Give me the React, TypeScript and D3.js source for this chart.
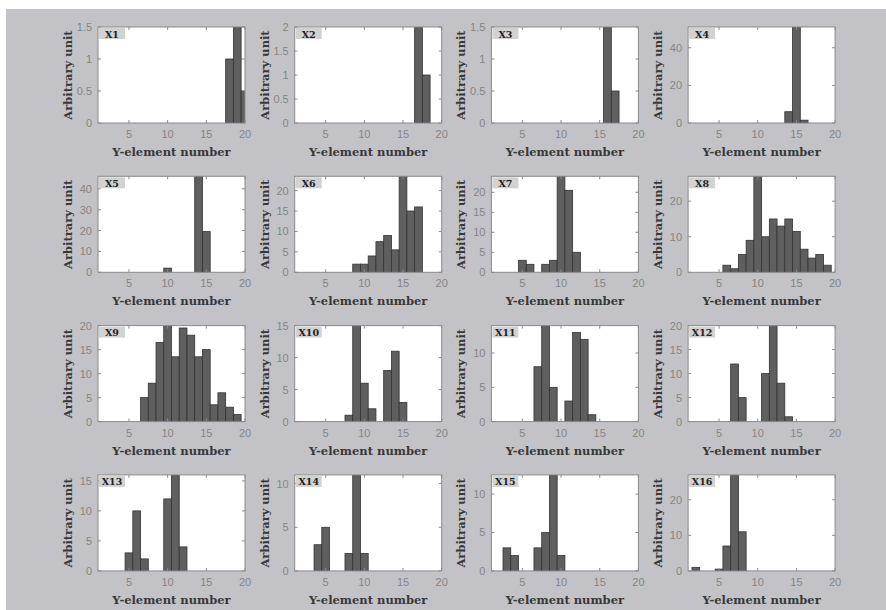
import React from 'react';
import * as d3 from 'd3';

// element numbers on the x axis (bins)
const elementNumbers = [1, 2, 3, 4, 5, 6, 7, 8, 9, 10, 11, 12, 13, 14, 15, 16, 17, 18, 19, 20];
const xTicks = [5, 10, 15, 20];

// counts per element number, one array per panel
const x1 = [0, 0, 0, 0, 0, 0, 0, 0, 0, 0, 0, 0, 0, 0, 0, 0, 0, 1, 1.5, 0.5];
const x2 = [0, 0, 0, 0, 0, 0, 0, 0, 0, 0, 0, 0, 0, 0, 0, 0, 2, 1, 0, 0];
const x3 = [0, 0, 0, 0, 0, 0, 0, 0, 0, 0, 0, 0, 0, 0, 0, 1.5, 0.5, 0, 0, 0];
const x4 = [0, 0, 0, 0, 0, 0, 0, 0, 0, 0, 0, 0, 0, 6, 51, 1.5, 0, 0, 0, 0];
const x5 = [0, 0, 0, 0, 0, 0, 0, 0, 0, 2, 0, 0, 0, 46, 19.5, 0, 0, 0, 0, 0];
const x6 = [0, 0, 0, 0, 0, 0, 0, 0, 2, 2, 4, 7.5, 9, 5.5, 23.5, 15, 16, 0, 0, 0];
const x7 = [0, 0, 0, 0, 3, 2, 0, 2, 3, 24, 20.5, 5, 0, 0, 0, 0, 0, 0, 0, 0];
const x8 = [0, 0, 0, 0, 0, 2, 1, 5, 9, 27, 10, 15, 13, 15, 11.5, 6.5, 4, 5, 2, 0];
const x9 = [0, 0, 0, 0, 0, 0, 5, 8, 16.5, 20, 13.5, 19.5, 18, 13.5, 15, 3.5, 6, 3, 1.5, 0];
const x10 = [0, 0, 0, 0, 0, 0, 0, 1, 15, 6, 2, 0, 8, 11, 3, 0, 0, 0, 0, 0];
const x11 = [0, 0, 0, 0, 0, 0, 8, 14, 5, 0, 3, 13, 12, 1, 0, 0, 0, 0, 0, 0];
const x12 = [0, 0, 0, 0, 0, 0, 12, 5, 0, 0, 10, 20, 8, 1, 0, 0, 0, 0, 0, 0];
const x13 = [0, 0, 0, 0, 3, 10, 2, 0, 0, 12, 16, 4, 0, 0, 0, 0, 0, 0, 0, 0];
const x14 = [0, 0, 0, 3, 5, 0, 0, 2, 11, 2, 0, 0, 0, 0, 0, 0, 0, 0, 0, 0];
const x15 = [0, 0, 3, 2, 0, 0, 3, 5, 12.5, 2, 0, 0, 0, 0, 0, 0, 0, 0, 0, 0];
const x16 = [0, 1, 0, 0, 0.5, 7, 27, 11, 0, 0, 0, 0, 0, 0, 0, 0, 0, 0, 0, 0];

const panelNames = ['X1', 'X2', 'X3', 'X4', 'X5', 'X6', 'X7', 'X8', 'X9', 'X10', 'X11', 'X12', 'X13', 'X14', 'X15', 'X16'];
const panelValues = [x1, x2, x3, x4, x5, x6, x7, x8, x9, x10, x11, x12, x13, x14, x15, x16];
const yTicks = [
  [0, 0.5, 1, 1.5], [0, 0.5, 1, 1.5, 2], [0, 0.5, 1, 1.5], [0, 20, 40],
  [0, 10, 20, 30, 40], [0, 5, 10, 15, 20], [0, 5, 10, 15, 20], [0, 10, 20],
  [0, 5, 10, 15, 20], [0, 5, 10, 15], [0, 5, 10], [0, 5, 10, 15, 20],
  [0, 5, 10, 15], [0, 5, 10], [0, 5, 10], [0, 10, 20],
];

const W = 886;
const H = 610;
const plotW = 147;
const plotH = 96;
const tickFont = '"Liberation Sans", Arial, sans-serif';
const labelFont = '"DejaVu Serif", serif';

function Panel({ i }: { i: number }) {
  const col = i % 4;
  const row = Math.floor(i / 4);
  const left = 98 + col * 196.7;
  const top = 27 + row * 149.3;
  const values = panelValues[i];

  const x = d3.scaleLinear().domain([1, 20]).range([0, plotW]);
  const y = d3.scaleLinear().domain([0, d3.max(values) as number]).range([plotH, 0]);
  const clipId = `clip-${i}`;

  return (
    <g transform={`translate(${left},${top})`}>
      <defs>
        <clipPath id={clipId}>
          <rect x={0} y={0} width={plotW} height={plotH} />
        </clipPath>
      </defs>
      <rect x={0} y={0} width={plotW} height={plotH} fill="#ffffff" />
      <g clipPath={`url(#${clipId})`}>
        {elementNumbers.map((n, k) =>
          values[k] > 0 ? (
            <rect
              key={n}
              x={x(n - 0.5)}
              y={y(values[k])}
              width={x(n + 0.5) - x(n - 0.5)}
              height={plotH - y(values[k])}
              fill="#5f5f5f"
              stroke="#333333"
              strokeWidth={0.8}
            />
          ) : null
        )}
      </g>
      {/* tick marks, mirrored on all sides */}
      {xTicks.map(t => (
        <g key={'xt' + t} stroke="#8a8a8a" strokeWidth={1}>
          <line x1={x(t)} x2={x(t)} y1={plotH} y2={plotH - 3} />
          <line x1={x(t)} x2={x(t)} y1={0} y2={3} />
        </g>
      ))}
      {yTicks[i].map(t => (
        <g key={'yt' + t} stroke="#8a8a8a" strokeWidth={1}>
          <line x1={0} x2={3} y1={y(t)} y2={y(t)} />
          <line x1={plotW} x2={plotW - 3} y1={y(t)} y2={y(t)} />
        </g>
      ))}
      <rect x={0} y={0} width={plotW} height={plotH} fill="none" stroke="#8a8a8a" strokeWidth={1} />
      {/* panel tag */}
      <rect x={1} y={1} width={26} height={11} fill="#d2d2d2" />
      <text x={14} y={10.5} textAnchor="middle" fontFamily={labelFont} fontWeight="bold" fontSize={9.5} fill="#222222">
        {panelNames[i]}
      </text>
      {/* tick labels */}
      {xTicks.map(t => (
        <text key={'xl' + t} x={x(t)} y={plotH + 15} textAnchor="middle" fontFamily={tickFont} fontSize={11} fill="#858585">
          {t}
        </text>
      ))}
      {yTicks[i].map(t => (
        <text key={'yl' + t} x={-6} y={y(t) + 4} textAnchor="end" fontFamily={tickFont} fontSize={11} fill="#858585">
          {t}
        </text>
      ))}
      {/* axis titles */}
      <text x={plotW / 2} y={plotH + 33} textAnchor="middle" fontFamily={labelFont} fontWeight="bold" fontSize={11.5} fill="#383838">
        Y-element number
      </text>
      <text
        transform={`translate(-26,${plotH / 2}) rotate(-90)`}
        textAnchor="middle"
        fontFamily={labelFont}
        fontWeight="bold"
        fontSize={11.5}
        fill="#383838"
      >
        Arbitrary unit
      </text>
    </g>
  );
}

export default function App() {
  return (
    <svg width={W} height={H} style={{ position: 'absolute', left: 0, top: 0 }}>
      <rect x={0} y={0} width={W} height={H} fill="#ffffff" />
      <rect x={6} y={9} width={W - 6} height={H - 9} fill="#c3c3c7" />
      {panelNames.map((_, i) => (
        <Panel key={i} i={i} />
      ))}
    </svg>
  );
}
